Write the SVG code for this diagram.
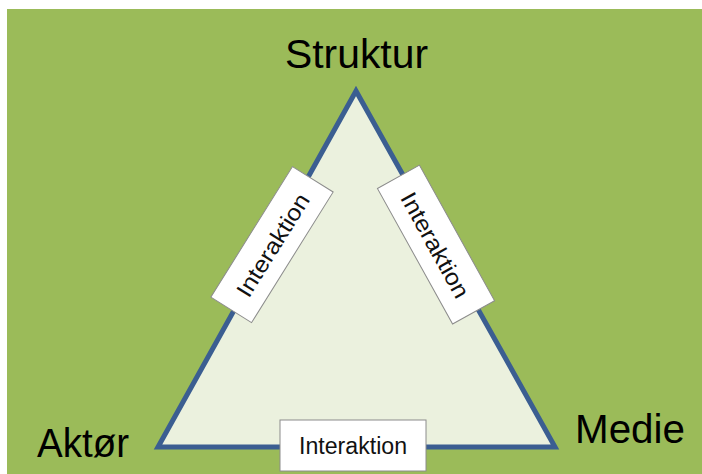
<svg xmlns="http://www.w3.org/2000/svg" width="702" height="474" viewBox="0 0 702 474">
<style>
.lbl{font-family:"Liberation Sans",Arial,sans-serif;fill:#000;}
.big{font-size:40px;}
.box{fill:#fff;stroke:#8c8c8c;stroke-width:1;}
.bt{font-family:"Liberation Sans",Arial,sans-serif;font-size:23px;fill:#111;text-anchor:middle;}
</style>
<rect x="0" y="0" width="702" height="474" fill="#fff"/>
<rect x="7" y="9" width="695" height="465" fill="#9bbb59"/>
<g id="connectors">
<polygon points="356,91 158,447 555,447" fill="#ebf1de" stroke="#3b5e91" stroke-width="5" stroke-linejoin="miter"/>
</g>
<g id="struktur"><text class="lbl big" x="285" y="68" textLength="143" lengthAdjust="spacingAndGlyphs">Struktur</text></g>
<g id="aktor"><text class="lbl big" x="37" y="457" textLength="92" lengthAdjust="spacingAndGlyphs">Aktør</text></g>
<g id="medie"><text class="lbl big" x="575" y="443" textLength="110" lengthAdjust="spacingAndGlyphs">Medie</text></g>
<g id="interaktion-left" transform="translate(272,244.6) rotate(-58)">
<rect class="box" x="-77" y="-24" width="154" height="48"/>
<text class="bt" x="0" y="9" font-size="25" textLength="117" lengthAdjust="spacingAndGlyphs">Interaktion</text>
</g>
<g id="interaktion-right" transform="translate(436,244.6) rotate(61)">
<rect class="box" x="-77.5" y="-24" width="155" height="48"/>
<text class="bt" x="0" y="9" font-size="25" textLength="117" lengthAdjust="spacingAndGlyphs">Interaktion</text>
</g>
<g id="interaktion-bottom">
<rect class="box" x="280" y="420" width="146" height="51"/>
<text class="bt" x="353" y="454" textLength="108" lengthAdjust="spacingAndGlyphs">Interaktion</text>
</g>
</svg>
